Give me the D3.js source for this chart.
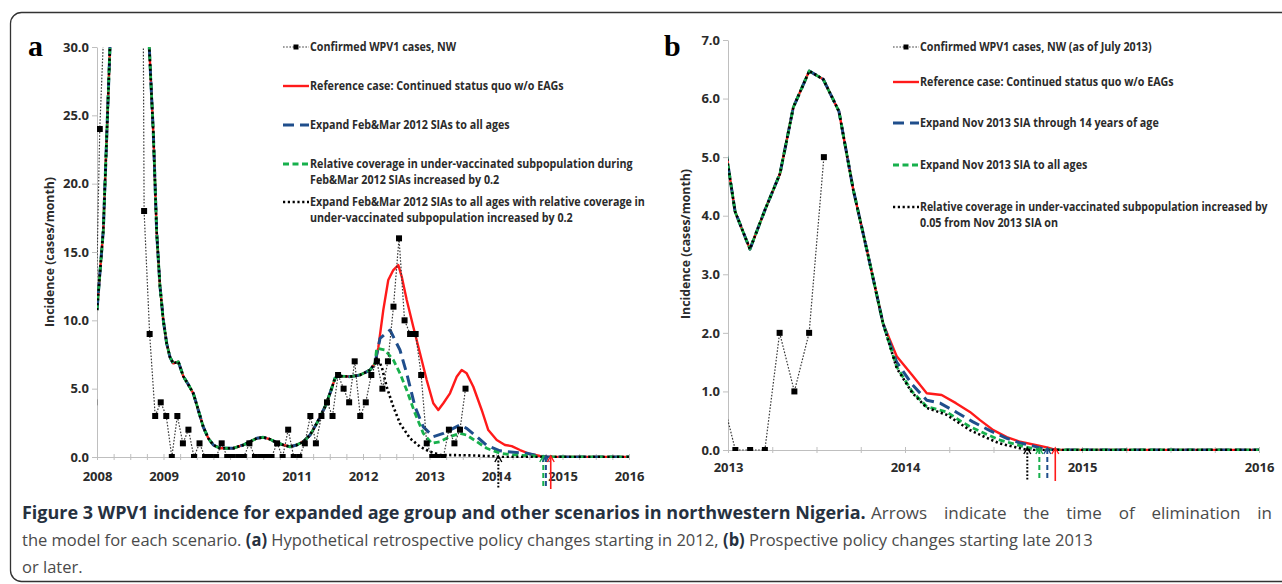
<!DOCTYPE html>
<html><head><meta charset="utf-8">
<script src="https://cdn.jsdelivr.net/npm/d3@7"></script>
<style>
body{margin:0;background:#fff;}
svg{display:block;}
</style></head><body>
<svg id="chart" width="1282" height="584" font-family="'Open Sans','Noto Sans',sans-serif"></svg>
<script>
// ---------------- DATA ----------------
// Panel a: x tick labels / y ticks
const xLabelsA = [2008, 2009, 2010, 2011, 2012, 2013, 2014, 2015, 2016];
const yTicksA = [0, 5, 10, 15, 20, 25, 30];
// Confirmed WPV1 cases, NW — monthly, starting Dec 2007 (values above 30 are off-chart estimates)
const confirmedAStart = 2007 + 11 / 12;
const confirmedA = [4,
  24, 34, 62, 88, 104, 96, 80, 110, 18, 9, 3, 4,
  3, 0, 3, 1, 2, 0, 1, 0, 0, 0, 1, 0,
  0, 0, 0, 1, 0, 0, 0, 0, 1, 0, 2, 0,
  0, 1, 3, 1, 3, 4, 3, 6, 5, 4, 7, 3,
  4, 6, 7, 5, 7, 11, 16, 10, 9, 9, 6, 1,
  0, 0, 0, 2, 1, 2, 5];
// Model: common trajectory (all scenarios) until early 2012, [year, cases/month]
const modelCommonA = [[2008.000,10.75],[2008.095,16.6],[2008.195,30],[2008.30,42],[2008.45,52],[2008.62,45],[2008.72,35],[2008.786,30],[2008.847,23.7],[2008.898,16.4],[2008.947,12.5],[2008.997,10],[2009.048,8.3],[2009.098,7.3],[2009.147,6.85],[2009.223,6.97],[2009.298,5.9],[2009.373,5.3],[2009.448,4.66],[2009.523,3.44],[2009.598,2.2],[2009.674,1.37],[2009.749,0.88],[2009.850,0.64],[2010.050,0.64],[2010.200,0.88],[2010.301,1.12],[2010.402,1.37],[2010.501,1.44],[2010.602,1.3],[2010.702,1.05],[2010.802,0.88],[2010.902,0.75],[2011.003,0.88],[2011.102,1.12],[2011.203,1.6],[2011.304,2.46],[2011.353,2.9],[2011.429,3.68],[2011.504,4.66],[2011.579,5.76],[2011.629,5.93],[2011.805,5.88],[2011.955,6.0],[2012.105,6.36],[2012.180,6.85]];
const refCaseA = [[2012.23,8.0],[2012.305,10.75],[2012.380,12.95],[2012.456,13.68],[2012.531,14.05],[2012.582,13.2],[2012.657,11.5],[2012.756,9.53],[2012.857,7.59],[2012.958,5.63],[2013.057,3.93],[2013.132,3.44],[2013.208,3.93],[2013.308,4.66],[2013.409,5.87],[2013.484,6.36],[2013.559,6.12],[2013.659,5.14],[2013.785,3.44],[2013.884,1.97],[2014.011,1.24],[2014.135,0.88],[2014.236,0.8],[2014.361,0.51],[2014.511,0.22],[2014.662,0.07],[2014.762,0.02],[2014.827,0],[2016,0]];
const expandAllAgesA = [[2012.256,8.68],[2012.406,9.29],[2012.556,7.83],[2012.657,6.12],[2012.782,3.68],[2012.907,2.2],[2013.057,1.49],[2013.208,1.73],[2013.358,2.1],[2013.459,2.34],[2013.559,2.1],[2013.710,1.49],[2013.860,0.85],[2014.060,0.45],[2014.161,0.39],[2014.462,0.27],[2014.662,0.07],[2014.737,0],[2016,0]];
const coverageA = [[2012.206,7.95],[2012.331,7.83],[2012.456,7.1],[2012.556,6.12],[2012.657,4.9],[2012.782,3.2],[2012.907,1.73],[2013.033,1.0],[2013.158,1.12],[2013.308,1.49],[2013.459,1.73],[2013.559,1.6],[2013.710,1.12],[2013.860,0.64],[2014.060,0.27],[2014.260,0.15],[2014.511,0.1],[2014.662,0.02],[2014.707,0],[2016,0]];
const bothA = [[2012.211,7.3],[2012.281,6.6],[2012.356,5.14],[2012.456,3.68],[2012.556,2.46],[2012.707,1.37],[2012.857,0.75],[2013.008,0.39],[2013.158,0.15],[2013.609,0.12],[2013.985,0.05],[2014.035,0],[2016,0]];
// elimination times (arrows) panel a
const elimA = {black: 2014.035, green: 2014.711, blue: 2014.75, red: 2014.823};

// Panel b
const xLabelsB = [2013, 2014, 2015, 2016];
const yTicksB = [0, 1, 2, 3, 4, 5, 6, 7];
const confirmedBStart = 2012 + 11 / 12;
const confirmedB = [1, 0, 0, 0, 2, 1, 2, 5];
const modelCommonB = [[2012.958,5.7],[2013.040,4.07],[2013.124,3.43],[2013.209,4.1],[2013.294,4.72],[2013.369,5.85],[2013.459,6.47],[2013.538,6.33],[2013.627,5.78],[2013.708,4.44],[2013.785,3.41],[2013.876,2.16]];
const refCaseB = [[2013.953,1.6],[2014.040,1.28],[2014.123,0.97],[2014.207,0.94],[2014.288,0.8],[2014.367,0.65],[2014.424,0.51],[2014.499,0.34],[2014.575,0.22],[2014.650,0.14],[2014.763,0.07],[2014.808,0.04],[2014.849,0],[2016,0]];
const expand14B = [[2013.953,1.5],[2014.040,1.12],[2014.123,0.85],[2014.198,0.8],[2014.288,0.65],[2014.384,0.48],[2014.480,0.33],[2014.575,0.2],[2014.650,0.12],[2014.723,0.07],[2014.804,0],[2016,0]];
const expandAllB = [[2013.953,1.42],[2014.040,1.0],[2014.123,0.74],[2014.236,0.65],[2014.311,0.5],[2014.367,0.4],[2014.452,0.28],[2014.537,0.17],[2014.667,0.06],[2014.759,0],[2016,0]];
const coverageB = [[2013.953,1.4],[2014.040,0.98],[2014.123,0.72],[2014.236,0.6],[2014.367,0.34],[2014.452,0.22],[2014.537,0.11],[2014.621,0.05],[2014.691,0],[2016,0]];
const elimB = {black: 2014.691, green: 2014.759, blue: 2014.804, red: 2014.849};

const legendA = [
  {key:"confirmed", lines:["Confirmed WPV1 cases, NW"]},
  {key:"red", lines:["Reference case: Continued status quo w/o EAGs"]},
  {key:"blue", lines:["Expand Feb&Mar 2012 SIAs to all ages"]},
  {key:"green", lines:["Relative coverage in under-vaccinated subpopulation during","Feb&Mar 2012 SIAs increased by 0.2"]},
  {key:"black", lines:["Expand Feb&Mar 2012 SIAs to all ages with relative coverage in","under-vaccinated subpopulation increased by 0.2"]}
];
const legendB = [
  {key:"confirmed", lines:["Confirmed WPV1 cases, NW (as of July 2013)"]},
  {key:"red", lines:["Reference case: Continued status quo w/o EAGs"]},
  {key:"blue", lines:["Expand Nov 2013 SIA through 14 years of age"]},
  {key:"green", lines:["Expand Nov 2013 SIA to all ages"]},
  {key:"black", lines:["Relative coverage in under-vaccinated subpopulation  increased by","0.05 from Nov 2013 SIA on"]}
];
const captionTitle = "Figure 3 WPV1 incidence for expanded age group and other scenarios in northwestern Nigeria.";
const captionLine1 = "Arrows indicate the time of elimination in";
const captionLine2 = [["the model for each scenario.", false], ["(a)", true],
  ["Hypothetical retrospective policy changes starting in 2012,", false], ["(b)", true],
  ["Prospective policy changes starting late 2013", false]];
const captionLine3 = "or later.";

// ---------------- STYLE ----------------
const styles = {
  confirmed: {stroke:"#3a3a3a", width:1.2, dash:"1.6,1.6"},
  red: {stroke:"#ff1a1a", width:2.4, dash:null},
  blue: {stroke:"#1f4e8c", width:3, dash:"11,6"},
  green: {stroke:"#17b04c", width:2.8, dash:"6,3.5"},
  black: {stroke:"#000", width:2.6, dash:"2.2,2.6"}
};
const svg = d3.select("#chart");
const axisColor = "#bfbfbf", textColor = "#2b2b2b";

// Figure border
svg.append("rect").attr("x",10.5).attr("y",12.5).attr("width",1300).attr("height",569)
  .attr("rx",11).attr("fill","none").attr("stroke","#333").attr("stroke-width",1.3);

function applyStyle(sel, s){
  sel.attr("fill","none").attr("stroke",s.stroke).attr("stroke-width",s.width)
    .attr("stroke-dasharray", s.dash);
}

function panel(cfg){
  const g = svg.append("g");
  const x = d3.scaleLinear().domain(cfg.xDomain).range(cfg.xRange);
  const y = d3.scaleLinear().domain(cfg.yDomain).range(cfg.yRange);
  const clipId = "clip" + cfg.id;
  svg.append("clipPath").attr("id", clipId).append("rect")
    .attr("x", cfg.xRange[0]).attr("y", cfg.yRange[1])
    .attr("width", cfg.xRange[1]-cfg.xRange[0]+1).attr("height", cfg.yRange[0]-cfg.yRange[1]+1);

  // y axis
  const ya = g.append("g").attr("transform",`translate(${cfg.xRange[0]},0)`)
    .call(d3.axisLeft(y).tickValues(cfg.yTicks).tickFormat(d3.format(".1f")).tickSize(5).tickPadding(3).tickSizeOuter(0));
  ya.attr("font-family",null);
  ya.select(".domain").attr("stroke",axisColor);
  ya.selectAll(".tick line").attr("stroke",axisColor);
  ya.selectAll(".tick text").attr("fill",textColor).attr("font-size",13).attr("font-weight","bold");

  // x axis: line + quarterly minor ticks
  const xa = g.append("g").attr("transform",`translate(0,${cfg.yRange[0]})`)
    .call(d3.axisBottom(x).tickValues(d3.range(cfg.xDomain[0], cfg.xDomain[1]+0.01, 0.25)).tickFormat("").tickSize(4).tickSizeOuter(0));
  xa.select(".domain").attr("stroke",axisColor);
  xa.selectAll(".tick line").attr("stroke",axisColor).attr("y1",-3).attr("y2",3);
  // labels
  const xl = g.append("g").attr("transform",`translate(0,${cfg.yRange[0]})`)
    .call(d3.axisBottom(x).tickValues(cfg.xLabels).tickFormat(d3.format("d")).tickSize(0).tickPadding(cfg.labelPad));
  xl.attr("font-family",null);
  xl.select(".domain").remove();
  xl.selectAll(".tick text").attr("fill",textColor).attr("font-size",13).attr("font-weight","bold");

  // y title
  g.append("text").attr("transform",`translate(${cfg.titleX},${cfg.titleY}) rotate(-90)`)
    .attr("text-anchor","middle").attr("dy","0.35em").attr("font-size",13).attr("font-weight","bold")
    .attr("fill",textColor).attr("textLength",150).attr("lengthAdjust","spacingAndGlyphs")
    .text("Incidence (cases/month)");

  // panel letter
  g.append("text").attr("x",cfg.letterX).attr("y",cfg.letterY)
    .attr("font-family","'Liberation Serif','DejaVu Serif',serif")
    .attr("font-weight","bold").attr("font-size",30).attr("fill","#000").text(cfg.letter);

  // series
  const line = d3.line().x(d=>x(d[0])).y(d=>y(d[1]));
  const plot = g.append("g").attr("clip-path",`url(#${clipId})`);
  cfg.series.forEach(s=>{
    plot.append("path").datum(s.data).attr("d",line).call(applyStyle, styles[s.key])
      .attr("stroke-linejoin","round");
  });
  // confirmed cases
  const conf = cfg.confirmed.map((v,i)=>[cfg.confirmedStart + (i+0.5)/12, v]);
  plot.append("path").datum(conf).attr("d",line).call(applyStyle, styles.confirmed);
  plot.selectAll("rect.mk").data(conf).join("rect").attr("class","mk")
    .attr("x",d=>x(d[0])-3).attr("y",d=>y(d[1])-3).attr("width",6).attr("height",6).attr("fill","#000");

  // elimination arrows
  ["black","green","blue","red"].forEach(k=>{
    const ax = x(cfg.elim[k]);
    const s = styles[k];
    g.append("line").attr("x1",ax).attr("x2",ax).attr("y1",cfg.arrowTop+1).attr("y2",cfg.arrowBottom)
      .attr("stroke",s.stroke).attr("stroke-width",k==="red"?1.6:2)
      .attr("stroke-dasharray", k==="black"?"1.8,1.8":(k==="red"?null:"5,3"));
    g.append("path").attr("d",`M${ax-3.5},${cfg.arrowTop+6}L${ax},${cfg.arrowTop}L${ax+3.5},${cfg.arrowTop+6}`)
      .attr("fill","none").attr("stroke",s.stroke).attr("stroke-width",1.4);
  });

  // legend
  const lg = g.append("g");
  cfg.legend.forEach((item,i)=>{
    const yy = cfg.legendY[i];
    const s = styles[item.key];
    const x0 = cfg.legendX, x1 = cfg.legendX + 26;
    lg.append("line").attr("x1",x0).attr("x2",x1).attr("y1",yy).attr("y2",yy).call(applyStyle, s);
    if(item.key==="confirmed"){
      lg.append("rect").attr("x",(x0+x1)/2-2.5).attr("y",yy-2.5).attr("width",5).attr("height",5).attr("fill","#000");
    }
    item.lines.forEach((t,j)=>{
      const te = lg.append("text").attr("dy","0.36em")
        .attr("font-size",11.5).attr("font-weight","bold").attr("fill",textColor).text(t);
      const n = te.node().getComputedTextLength();
      const k = Math.min(cfg.condense, cfg.maxW / n);
      te.attr("transform",`translate(${x1+1},${yy + j*15.5}) scale(${k},1)`);
    });
  });
}

// condense factor: reference string measures 254px in the figure
const probe = svg.append("text").attr("font-size",11.5).attr("font-weight","bold")
  .text("Reference case: Continued status quo w/o EAGs");
const condense = 254 / probe.node().getComputedTextLength();
probe.remove();

panel({
  id:"a", xDomain:[2008,2016], xRange:[97,629], yDomain:[0,30], yRange:[457,47],
  yTicks:yTicksA, xLabels:xLabelsA, labelPad:15,
  titleX:49, titleY:252, letter:"a", letterX:28, letterY:56,
  series:[
    {key:"red", data:modelCommonA.concat(refCaseA)},
    {key:"blue", data:modelCommonA.concat(expandAllAgesA)},
    {key:"green", data:modelCommonA.concat(coverageA)},
    {key:"black", data:modelCommonA.concat(bothA)}
  ],
  confirmed:confirmedA, confirmedStart:confirmedAStart,
  elim:elimA, arrowTop:456, arrowBottom:489,
  legend:legendA, legendX:283, legendY:[47,86,125,164,202], condense, maxW:336
});

panel({
  id:"b", xDomain:[2013,2016], xRange:[728,1259], yDomain:[0,7], yRange:[450,40],
  yTicks:yTicksB, xLabels:xLabelsB, labelPad:13,
  titleX:685, titleY:244, letter:"b", letterX:664, letterY:56,
  series:[
    {key:"red", data:modelCommonB.concat(refCaseB)},
    {key:"blue", data:modelCommonB.concat(expand14B)},
    {key:"green", data:modelCommonB.concat(expandAllB)},
    {key:"black", data:modelCommonB.concat(coverageB)}
  ],
  confirmed:confirmedB, confirmedStart:confirmedBStart,
  elim:elimB, arrowTop:448, arrowBottom:481,
  legend:legendB, legendX:893, legendY:[47,82,123,165,207], condense, maxW:348
});

// ---------------- CAPTION ----------------
const capBold = "#26313f", capNorm = "#4a4a4a", capFs = 17;
function measure(t, bold){
  const p = svg.append("text").attr("font-size",capFs).attr("font-weight",bold?"bold":null).text(t);
  const w = p.node().getComputedTextLength(); p.remove(); return w;
}
const spaceN = measure("a a",false) - measure("aa",false);
const segW = captionLine2.map(s=>measure(s[0], s[1]));
const k2 = 1071 / (d3.sum(segW) + spaceN*(captionLine2.length-1));
function capText(t, x, y, bold, k, wordSpacing){
  return svg.append("text").attr("transform",`translate(${x},${y}) scale(${k},1)`)
    .attr("font-size",capFs).attr("font-weight",bold?"bold":null)
    .attr("fill",bold?capBold:capNorm).attr("word-spacing",wordSpacing||null).text(t);
}
// line 1: bold title, then normal text filling to the right margin
const titleW = measure(captionTitle, true);
capText(captionTitle, 22, 519, true, 844 / titleW);
const l1w = measure(captionLine1,false);
const nSp = captionLine1.split(" ").length - 1;
capText(captionLine1, 871, 519, false, 1, Math.max(0, (401 - l1w)/nSp));
// line 2
let cx = 22;
captionLine2.forEach((s,i)=>{
  capText(s[0], cx, 546, s[1], k2);
  cx += (segW[i] + spaceN) * k2;
});
// line 3
capText(captionLine3, 22, 573, false, k2);
</script>
</body></html>
